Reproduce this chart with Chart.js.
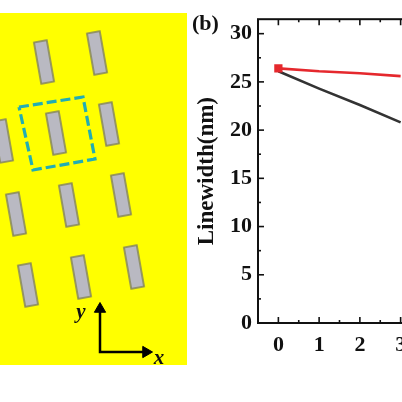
<!DOCTYPE html>
<html>
<head>
<meta charset="utf-8">
<script src="https://cdn.jsdelivr.net/npm/chart.js@4.4.1/dist/chart.umd.min.js"></script>
<style>
  html, body { margin: 0; padding: 0; background: #fff; overflow: hidden; }
  body { width: 402px; height: 402px; position: relative; }
  #schemeCanvas { position: absolute; left: 0; top: 0; }
  #lineCanvas { position: absolute; left: 190px; top: 0; }
</style>
</head>
<body>
<canvas id="schemeCanvas" width="190" height="402"></canvas>
<canvas id="lineCanvas" width="240" height="402"></canvas>
<script>
/* ================= DATA ================= */
const steps = [0, 1, 2, 3];
const redWidths = [26.4, 26.1, 25.9, 25.6];
const blackWidths = [26.1, 24.3, 22.6, 20.8];
const yTickLabels = [0, 5, 10, 15, 20, 25, 30];
const xTickLabels = [0, 1, 2, 3];

// schematic (a): rectangle centres, unit-cell box, axis arrows
const rectCentersX = [44, 97, 3, 56, 109, 16, 69, 121, 28, 81, 134];
const rectCentersY = [62, 53, 141, 133, 124, 214, 205, 195, 285, 277, 267];
const cellBoxX = [19, 83, 95, 33, 19];
const cellBoxY = [107, 97, 159, 170, 107];
const arrowX = [100, 100, 148];
const arrowY = [306, 352, 352];

/* ================= STYLE ================= */
const SERIF = '"Liberation Serif", "Times New Roman", serif';
Chart.defaults.font.family = SERIF;
Chart.defaults.color = "#111";

/* ================= SCHEMATIC (a) ================= */
function makeRodImage() {
  const c = document.createElement("canvas");
  c.width = 15;
  c.height = 44;
  const g = c.getContext("2d");
  g.fillStyle = "#b9b9c2";
  g.fillRect(1, 1, 13, 42);
  g.strokeStyle = "#85865c";
  g.lineWidth = 1.6;
  g.strokeRect(1, 1, 13, 42);
  return c;
}

const yellowPanel = {
  id: "yellowPanel",
  beforeDatasetsDraw(chart) {
    const { ctx, scales } = chart;
    const x0 = scales.x.getPixelForValue(0);
    const x1 = scales.x.getPixelForValue(187);
    const y0 = scales.y.getPixelForValue(13);
    const y1 = scales.y.getPixelForValue(365);
    ctx.save();
    ctx.fillStyle = "#ffff00";
    ctx.fillRect(x0, y0, x1 - x0, y1 - y0);
    ctx.restore();
  },
  afterDatasetsDraw(chart) {
    const { ctx, scales } = chart;
    ctx.save();
    ctx.fillStyle = "#111";
    ctx.font = `italic bold 21px ${SERIF}`;
    ctx.textAlign = "center";
    ctx.textBaseline = "middle";
    ctx.fillText("y", scales.x.getPixelForValue(81), scales.y.getPixelForValue(313));
    ctx.fillText("x", scales.x.getPixelForValue(159), scales.y.getPixelForValue(359));
    ctx.restore();
  },
};

new Chart(document.getElementById("schemeCanvas"), {
  type: "scatter",
  data: {
    datasets: [
      {
        data: rectCentersX.map((x, i) => ({ x, y: rectCentersY[i] })),
        pointStyle: makeRodImage(),
        rotation: -10,
        radius: 10,
      },
      {
        type: "line",
        data: cellBoxX.map((x, i) => ({ x, y: cellBoxY[i] })),
        borderColor: "#22adb4",
        borderWidth: 3.2,
        borderDash: [10, 4],
        pointRadius: 0,
        fill: false,
        tension: 0,
      },
      {
        type: "line",
        data: arrowX.map((x, i) => ({ x, y: arrowY[i] })),
        borderColor: "#000",
        borderWidth: 2.5,
        pointRadius: 0,
        fill: false,
        tension: 0,
      },
      {
        data: [
          { x: 100, y: 309 },
          { x: 146, y: 352 },
        ],
        pointStyle: "triangle",
        rotation: [0, 90],
        radius: 6.5,
        backgroundColor: "#000",
        borderColor: "#000",
        borderWidth: 1,
      },
    ],
  },
  options: {
    responsive: false,
    animation: false,
    events: [],
    layout: { padding: 0, autoPadding: false },
    plugins: { legend: { display: false }, tooltip: { enabled: false } },
    scales: {
      x: { type: "linear", min: 0, max: 190, display: false },
      y: { type: "linear", min: 0, max: 402, reverse: true, display: false },
    },
  },
  plugins: [yellowPanel],
});

/* ================= LINE CHART (b) ================= */
const innerTicks = {
  id: "innerTicks",
  afterDraw(chart) {
    const { ctx, chartArea: a, scales } = chart;
    ctx.save();
    ctx.strokeStyle = "#111";
    ctx.lineWidth = 2;
    ctx.strokeRect(a.left, a.top, a.right - a.left, a.bottom - a.top);

    ctx.lineWidth = 1.6;
    scales.x.ticks.forEach((t) => {
      if (t.value < 0) return;
      const px = scales.x.getPixelForValue(t.value);
      const len = Number.isInteger(t.value) ? 6 : 3;
      ctx.beginPath();
      ctx.moveTo(px, a.bottom);
      ctx.lineTo(px, a.bottom - len);
      ctx.moveTo(px, a.top);
      ctx.lineTo(px, a.top + len);
      ctx.stroke();
    });
    scales.y.ticks.forEach((t) => {
      if (t.value === 0) return;
      const py = scales.y.getPixelForValue(t.value);
      const len = t.value % 5 === 0 ? 6 : 3;
      ctx.beginPath();
      ctx.moveTo(a.left, py);
      ctx.lineTo(a.left + len, py);
      ctx.stroke();
    });

    ctx.fillStyle = "#111";
    ctx.font = `bold 22px ${SERIF}`;
    ctx.textAlign = "left";
    ctx.textBaseline = "middle";
    ctx.fillText("(b)", 2, 24);
    ctx.restore();
  },
};

new Chart(document.getElementById("lineCanvas"), {
  type: "line",
  data: {
    datasets: [
      {
        label: "red",
        data: steps.map((x, i) => ({ x, y: redWidths[i] })),
        borderColor: "#e5282d",
        backgroundColor: "#e5282d",
        borderWidth: 2.6,
        pointStyle: "rect",
        pointRadius: [4, 0, 0, 0],
        tension: 0,
      },
      {
        label: "black",
        data: steps.map((x, i) => ({ x, y: blackWidths[i] })),
        borderColor: "#333333",
        backgroundColor: "#333333",
        borderWidth: 2.6,
        pointRadius: 0,
        tension: 0,
      },
    ],
  },
  options: {
    responsive: false,
    animation: false,
    events: [],
    layout: { padding: { top: 19, right: 4, left: 0, bottom: 0 }, autoPadding: false },
    plugins: { legend: { display: false }, tooltip: { enabled: false } },
    scales: {
      x: {
        type: "linear",
        min: -0.5,
        max: 3.5,
        grid: { display: false, drawTicks: false },
        border: { display: false },
        ticks: {
          stepSize: 0.5,
          padding: 9,
          maxRotation: 0,
          autoSkip: false,
          font: { size: 22, weight: "bold" },
          callback: (v) => (xTickLabels.includes(v) ? String(v) : ""),
        },
        afterFit: (scale) => {
          scale.height = 79;
        },
      },
      y: {
        type: "linear",
        min: 0,
        max: 31.5,
        grid: { display: false, drawTicks: false },
        border: { display: false },
        ticks: {
          padding: 6,
          autoSkip: false,
          font: { size: 22, weight: "bold" },
          callback: (v) => (yTickLabels.includes(v) ? String(v) : ""),
        },
        afterBuildTicks: (scale) => {
          // major ticks from the label list, plus a minor tick halfway
          const ticks = [];
          yTickLabels.forEach((v, i) => {
            ticks.push({ value: v });
            if (i < yTickLabels.length - 1) {
              ticks.push({ value: (v + yTickLabels[i + 1]) / 2 });
            }
          });
          scale.ticks = ticks;
        },
        title: {
          display: true,
          text: "Linewidth(nm)",
          font: { size: 23, weight: "bold" },
          padding: { top: 3, bottom: 0 },
        },
        afterFit: (scale) => {
          scale.width = 68;
        },
      },
    },
  },
  plugins: [innerTicks],
});
</script>
</body>
</html>
